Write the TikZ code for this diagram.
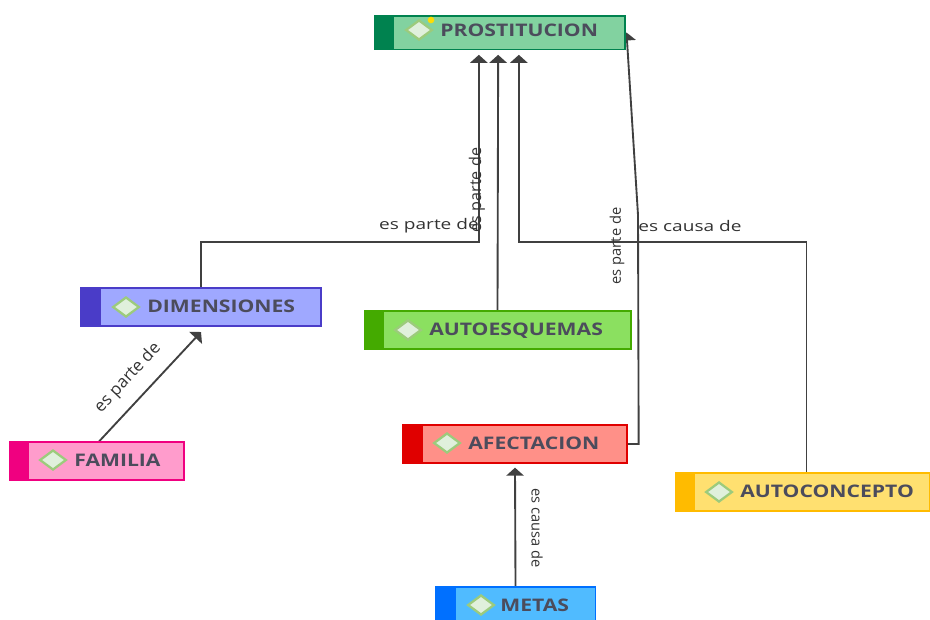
\documentclass[tikz,border=0pt]{standalone}
\usepackage{fontspec}
\setmainfont{Open Sans}
\usetikzlibrary{arrows.meta, backgrounds, shapes.geometric}
\definecolor{tinta}{HTML}{4C4C5C}
\definecolor{linea}{HTML}{404040}
\definecolor{romboBorde}{HTML}{9CCB7C}
\definecolor{romboFondo}{HTML}{E0F0DC}
\definecolor{prosBanda}{HTML}{00824F}\definecolor{prosFondo}{HTML}{82D2A0}
\definecolor{dimeBanda}{HTML}{4A3CC8}\definecolor{dimeFondo}{HTML}{9FA8FF}
\definecolor{esquBanda}{HTML}{44AA00}\definecolor{esquFondo}{HTML}{8BE060}
\definecolor{afecBanda}{HTML}{E00000}\definecolor{afecFondo}{HTML}{FF9088}
\definecolor{famiBanda}{HTML}{F00080}\definecolor{famiFondo}{HTML}{FF9CCC}
\definecolor{concBanda}{HTML}{FFBB00}\definecolor{concFondo}{HTML}{FFE070}
\definecolor{metaBanda}{HTML}{0070FF}\definecolor{metaFondo}{HTML}{50BBFF}
\tikzset{
	topic/.style 2 args={draw=#1, fill=#2, line width=1pt, inner sep=0pt, minimum height=28.5pt,
		path picture={\fill[#1] (path picture bounding box.north west) rectangle ([xshift=15pt]path picture bounding box.south west);}},
	rombo/.style={draw=romboBorde, diamond, fill=romboFondo, line width=1.7pt, inner sep=0pt, minimum width=20pt, minimum height=15pt},
	titulo/.style={anchor=west, inner sep=0pt, text=tinta, text depth=0pt, xscale=1.22, font=\fontsize{13}{15}\selectfont\bfseries},
	etiqueta/.style={inner sep=0pt, text=black!80, font=\fontsize{11}{13}\selectfont},
	enlace/.style={-{Triangle[length=6pt,width=13pt]}, draw=linea, line width=1.4pt}
}
\begin{document}
\begin{tikzpicture}[x=0.75pt,y=-0.75pt]
		\useasboundingbox (0,0) rectangle (930,619);
		\node[topic={prosBanda}{prosFondo}, minimum width=188pt, minimum height=25pt] at (499.5,32.5) (prostitucion) {};
		\node[topic={dimeBanda}{dimeFondo}, minimum width=180pt] at (201,307) (dimensiones) {};
		\node[topic={esquBanda}{esquFondo}, minimum width=200pt] at (497.5,330) (autoesquemas) {};
		\node[topic={afecBanda}{afecFondo}, minimum width=168pt] at (515,444) (afectacion) {};
		\node[topic={famiBanda}{famiFondo}, minimum width=131pt] at (96.5,461) (familia) {};
		\node[topic={concBanda}{concFondo}, minimum width=191pt] at (802.5,492) (autoconcepto) {};
		\node[topic={metaBanda}{metaFondo}, minimum width=120pt] at (515.5,606) (metas) {};

		\node[rombo] at (419,30) (rombo prostitucion) {};
		\node[rombo] at (126,307) (rombo dimensiones) {};
		\node[rombo] at (408,330) (rombo autoesquemas) {};
		\node[rombo] at (447,443) (rombo afectacion) {};
		\node[rombo] at (53,460) (rombo familia) {};
		\node[rombo] at (719,492) (rombo autoconcepto) {};
		\node[rombo] at (481,605) (rombo metas) {};
		\node[circle, fill=yellow!80!orange, inner sep=0pt, minimum size=5pt] at (431,20) (punto) {};

		\node[titulo] at (440,30) (t prostitucion) {PROSTITUCION};
		\node[titulo] at (147,306) (t dimensiones) {DIMENSIONES};
		\node[titulo] at (429,329) (t autoesquemas) {AUTOESQUEMAS};
		\node[titulo] at (468,443) (t afectacion) {AFECTACION};
		\node[titulo] at (74,460) (t familia) {FAMILIA};
		\node[titulo] at (740,491) (t autoconcepto) {AUTOCONCEPTO};
		\node[titulo] at (500,605) (t metas) {METAS};

		\node[etiqueta, xscale=1.3] at (429,226) (e1) {es parte de};
		\node[etiqueta, scale=1.1, rotate=90] at (477,190) (e2) {es parte de};
		\node[etiqueta, rotate=90] at (617,246) (e3) {es parte de};
		\node[etiqueta, xscale=1.3] at (690,226) (e4) {es causa de};
		\node[etiqueta, scale=1.15, rotate=47] at (128,378) (e5) {es parte de};
		\node[etiqueta, rotate=-90] at (537,528) (e6) {es causa de};

		\coordinate (codo) at (638,215);
		\begin{pgfonlayer}{background}
		\draw[enlace] (dimensiones.north) --++(0,-45)-|([xshift=-15.5pt,yshift=-3.75pt]prostitucion.south);
		\draw[enlace] (autoesquemas.north) -- ([xshift=-1pt,yshift=-3.75pt]prostitucion.south);
		\draw[enlace] ([xshift=3pt]autoconcepto.north) --++(0,-230)-|([xshift=14.5pt,yshift=-3.75pt]prostitucion.south);
		\draw[enlace] (afectacion.east) --++(11,0)--(codo)--([xshift=0.75pt]prostitucion.east);
		\draw[enlace] (metas.north) -- ([yshift=-3pt]afectacion.south);
		\draw[enlace] ([xshift=2pt]familia.north) -- ([yshift=-4pt]dimensiones.south);
		\end{pgfonlayer}
\end{tikzpicture}
\end{document}
